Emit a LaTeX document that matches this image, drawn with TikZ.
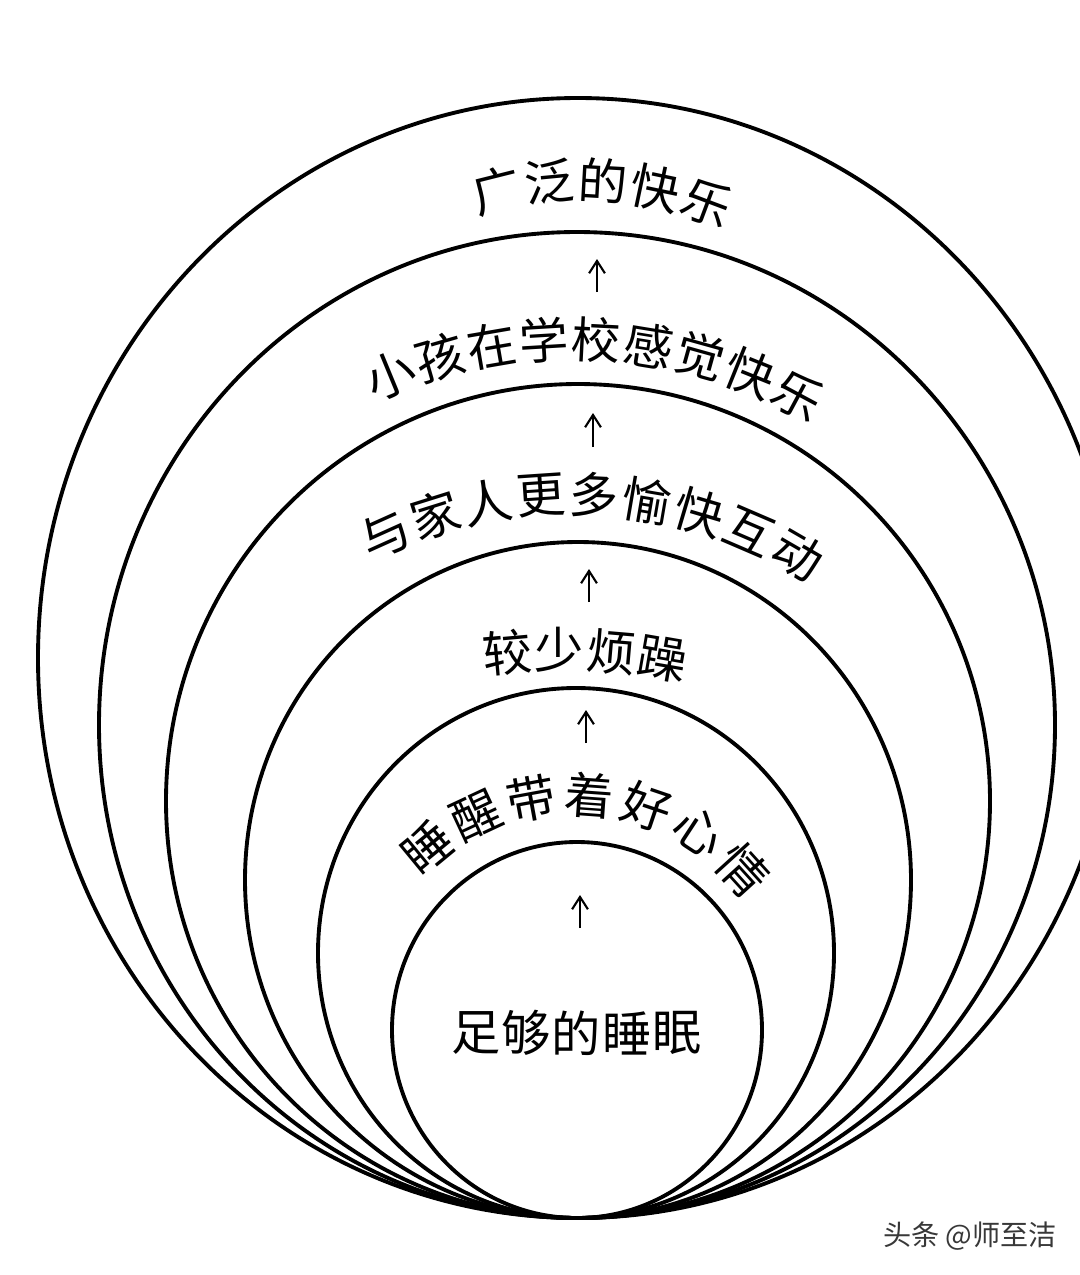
\documentclass[tikz,border=0pt]{standalone}
\usepackage{fontspec}
\newfontfamily\cjk{Noto Sans CJK SC}
\usetikzlibrary{arrows.meta}
\newcommand{\ArcLabel}[7]{%
  \foreach \ch [count=\i] in {#7}{%
    \pgfmathsetmacro{\ang}{#5+(\i-1)*(#6)}%
    \node[lbl,rotate=-\ang] (#1-\i) at ({#2+#4*sin(\ang)},{#3-#4*cos(\ang)}) {\ch};%
  }}
\begin{document}
\begin{tikzpicture}[x=0.01cm,y=-0.01cm,
  ring/.style={line width=1.1pt,black},
  lbl/.style={font=\cjk\fontsize{14pt}{14pt}\selectfont,inner sep=0pt},
  arr/.style={line width=0.6pt,-{Straight Barb[length=3.5pt,width=4.5pt]}},
  wmark/.style={font=\cjk\fontsize{8pt}{8pt}\selectfont,text=black!78,inner sep=0pt}]
\fill[white] (0,0) rectangle (1080,1275);
\useasboundingbox (0,0) rectangle (1080,1275);
\begin{scope}
  \clip (0,0) rectangle (1080,1275);
  \draw[ring] (578,658) ellipse [x radius=540, y radius=560];
  \draw[ring] (577,725) ellipse [x radius=478, y radius=493];
  \draw[ring] (578,801) ellipse [x radius=412, y radius=417];
  \draw[ring] (578,880) ellipse [x radius=333, y radius=338];
  \draw[ring] (576,953) ellipse [x radius=258, y radius=265];
  \draw[ring] (577,1030) ellipse [x radius=185, y radius=188];
\end{scope}
% labels
\ArcLabel{t1}{583}{533}{352.6}{-14.1}{8.67}{广,泛,的,快,乐}
\ArcLabel{t2}{572}{816}{477}{-22.4}{6.33}{小,孩,在,学,校,感,觉,快,乐}
\ArcLabel{t3}{571}{947}{452.5}{-24.2}{6.78}{与,家,人,更,多,愉,快,互,动}
\ArcLabel{t4}{560}{1250}{600}{-5.07}{4.98}{较,少,烦,躁}
\ArcLabel{t5}{573}{1024}{229.4}{-39.5}{14.55}{睡,醒,带,着,好,心,情}
\foreach \ch [count=\i] in {足,够,的,睡,眠}{
  \node[lbl] (t6-\i) at ({476+(\i-1)*50.25},1033) {\ch};
}
% arrows
\coordinate (a1s) at (597,292); \coordinate (a1e) at (597,259);
\coordinate (a2s) at (593,447); \coordinate (a2e) at (593,413);
\coordinate (a3s) at (589,602); \coordinate (a3e) at (589,569);
\coordinate (a4s) at (586,743); \coordinate (a4e) at (586,710);
\coordinate (a5s) at (580,928); \coordinate (a5e) at (580,895);
\draw[arr] (a1s) -- (a1e);
\draw[arr] (a2s) -- (a2e);
\draw[arr] (a3s) -- (a3e);
\draw[arr] (a4s) -- (a4e);
\draw[arr] (a5s) -- (a5e);
% watermark
\node[wmark] (wm) at (970,1236) {头条 @师至洁};
\end{tikzpicture}
\end{document}
